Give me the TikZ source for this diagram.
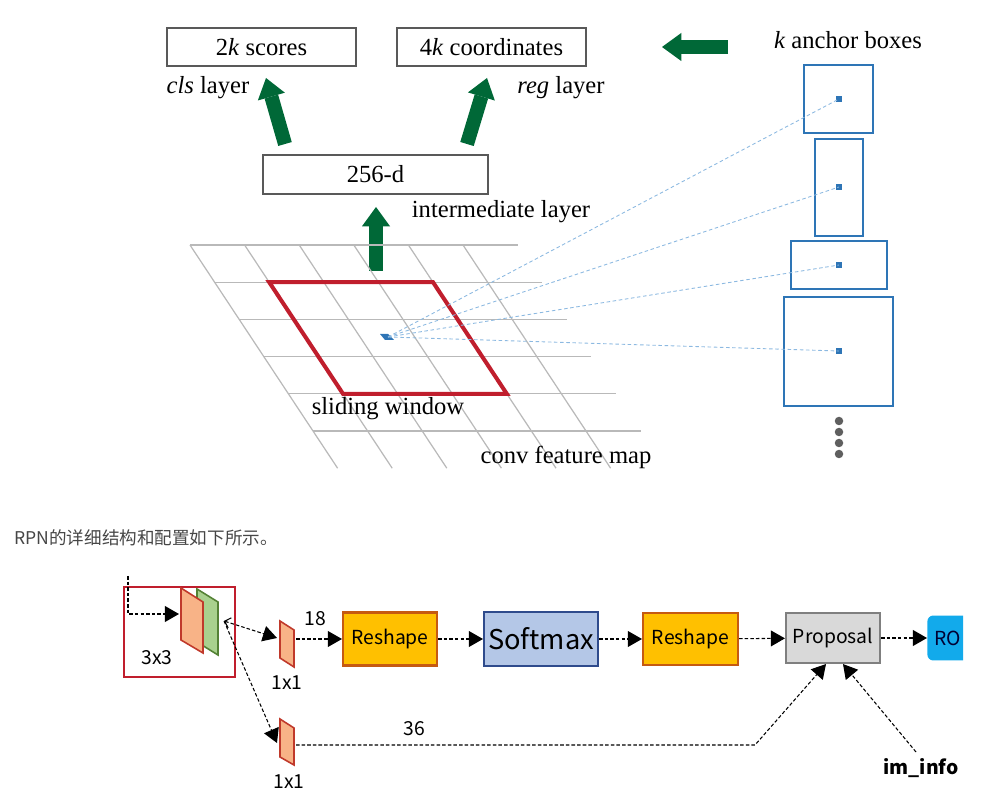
\documentclass[tikz,border=0pt]{standalone}
\usepackage{fontspec}
\setmainfont{Liberation Serif}
\newfontfamily\cjk{Noto Sans CJK SC}
\usepackage{tikz}
\usetikzlibrary{arrows.meta}
\usetikzlibrary{positioning}
\definecolor{box_gray}{RGB}{89,89,89}
\definecolor{arrow_green}{RGB}{0,104,55}
\definecolor{anchor_blue}{RGB}{46,117,182}
\definecolor{ray_blue}{RGB}{140,185,225}
\definecolor{window_red}{RGB}{192,30,45}
\definecolor{grid_gray}{RGB}{185,185,185}
\definecolor{dot_gray}{RGB}{95,95,95}
\definecolor{note_gray}{RGB}{70,70,70}
\definecolor{reshape_fill}{RGB}{255,192,0}
\definecolor{reshape_draw}{RGB}{197,90,17}
\definecolor{softmax_fill}{RGB}{180,199,231}
\definecolor{softmax_draw}{RGB}{47,75,140}
\definecolor{proposal_fill}{RGB}{217,217,217}
\definecolor{proposal_draw}{RGB}{127,127,127}
\definecolor{roi_fill}{RGB}{18,170,235}
\definecolor{feat_fill}{RGB}{248,179,135}
\definecolor{feat_draw}{RGB}{192,57,43}
\definecolor{feat2_fill}{RGB}{169,209,142}
\definecolor{feat2_draw}{RGB}{84,130,53}
\tikzstyle{serif_text}=[font=\fontsize{14}{16}\selectfont, inner sep=0pt]
\tikzstyle{sans_text}=[font=\cjk\fontsize{11}{13}\selectfont, inner sep=0pt]
\tikzstyle{layer_box}=[draw=box_gray, line width=0.8pt, inner sep=0pt, serif_text]
\tikzstyle{big_arrow}=[draw=arrow_green, line width=8pt, -{Triangle[length=11pt, width=16pt, line width=0pt]}]
\tikzstyle{anchor_box}=[draw=anchor_blue, line width=1.1pt, inner sep=0pt]
\tikzstyle{anchor_dot}=[fill=anchor_blue, minimum size=0.12cm, inner sep=0pt]
\tikzstyle{ray}=[draw=ray_blue, line width=0.5pt, dash pattern=on 2pt off 1.5pt]
\tikzstyle{grid_line}=[draw=grid_gray, line width=0.7pt]
\tikzstyle{flow}=[draw=black, line width=0.6pt, dash pattern=on 2pt off 1.2pt, -{Triangle[length=8pt, width=9pt]}]
\tikzstyle{op_box}=[line width=1.2pt, inner sep=0pt, sans_text]

\begin{document}
\begin{tikzpicture}[x=0.02cm, y=-0.02cm]
\useasboundingbox (0,0) rectangle (988,800);
\node[layer_box, minimum width=3.78cm, minimum height=0.76cm] (scores) at (261.5,47){2\textit{k} scores};
\node[layer_box, minimum width=3.78cm, minimum height=0.76cm] (coords) at (491.5,47){4\textit{k} coordinates};
\node[layer_box, minimum width=4.5cm, minimum height=0.78cm] (mid) at (375.5,174.5){256-d};
\node[serif_text] (cls) at (208,88){\textit{cls} layer};
\node[serif_text] (reg) at (561,88){\textit{reg} layer};
\node[serif_text] (inter) at (501,212){intermediate layer};
\node[serif_text] (kanchor) at (848,40){\textit{k} anchor boxes};
\coordinate (cls_tail) at (285,144);
\coordinate (cls_tip) at (266,78);
\coordinate (reg_tail) at (467,144);
\coordinate (reg_tip) at (487,78);
\coordinate (mid_tail) at (376,271);
\coordinate (mid_tip) at (376,207);
\coordinate (box_tail) at (728,47);
\coordinate (box_tip) at (662,47);
\draw[big_arrow] (cls_tail) -- (cls_tip);
\draw[big_arrow] (reg_tail) -- (reg_tip);
\draw[big_arrow] (mid_tail) -- (mid_tip);
\draw[big_arrow] (box_tail) -- (box_tip);
\foreach \v in {0,...,5}
  \draw[grid_line] ({190+24.6*\v},{245+37.2*\v}) -- ++(327.6,0);
\foreach \u in {0,...,5}
  \draw[grid_line] ({190+54.6*\u},245) -- ++(147.6,223.2);
\draw[draw=window_red, line width=2.3pt, line join=miter] (269.2,282.2) -- (433,282.2) -- (506.8,393.8) -- (343,393.8) -- cycle;
\fill[anchor_blue] (380,334) -- (388,334) -- (394,340) -- (385,340) -- cycle;
\coordinate (ctr) at (388,337);
\node[serif_text] (sliding) at (388,409){sliding window};
\node[serif_text] (convmap) at (566,457){conv feature map};
\node[anchor_box, minimum width=1.38cm, minimum height=1.36cm] (box1) at (838.5,99){};
\node[anchor_box, minimum width=0.96cm, minimum height=1.94cm] (box2) at (839,187.5){};
\node[anchor_box, minimum width=1.92cm, minimum height=0.96cm] (box3) at (839,265){};
\node[anchor_box, minimum width=2.18cm, minimum height=2.18cm] (box4) at (838.5,351.5){};
\node[anchor_dot] (dot1) at (839,99){};
\node[anchor_dot] (dot2) at (839,187){};
\node[anchor_dot] (dot3) at (839,265){};
\node[anchor_dot] (dot4) at (839,351){};
\draw[ray] (ctr) -- (dot1.center);
\draw[ray] (ctr) -- (dot2.center);
\draw[ray] (ctr) -- (dot3.center);
\draw[ray] (ctr) -- (dot4.center);
\foreach \y in {421,432,443,454}
  \fill[dot_gray] (839,\y) circle (0.085cm);

\node[anchor=west, font=\cjk\fontsize{10}{12}\selectfont, text=note_gray, inner sep=0pt] (note) at (14,538){RPN的详细结构和配置如下所示。};
\node[draw=window_red, line width=1.6pt, minimum width=2.22cm, minimum height=1.8cm, inner sep=0pt] (conv) at (179.5,632){};
\filldraw[fill=feat2_fill, draw=feat2_draw, line width=0.9pt] (197,589) -- (218,602) -- (218,655) -- (197,642) -- cycle;
\filldraw[fill=feat_fill, draw=feat_draw, line width=0.9pt] (181,588) -- (203,602) -- (203,653) -- (181,640) -- cycle;
\node[sans_text] (k3) at (157,658){3x3};
\coordinate (in_top) at (128,576);
\coordinate (in_turn) at (128,614);
\coordinate (feat_in) at (179,614);
\draw[flow] (in_top) -- (in_turn) -- (feat_in);
\coordinate (split) at (224,621);
\filldraw[fill=feat_fill, draw=feat_draw, line width=0.9pt] (280,621) -- (294,630) -- (294,667) -- (280,658) -- cycle;
\filldraw[fill=feat_fill, draw=feat_draw, line width=0.9pt] (280,719) -- (294,728) -- (294,765) -- (280,757) -- cycle;
\coordinate (cls_in) at (277,638);
\coordinate (cls_out) at (296,639);
\coordinate (reg_in) at (277,743);
\coordinate (reg_out) at (296,745);
\node[sans_text] (k1a) at (287,683){1x1};
\node[sans_text] (k1b) at (289,782){1x1};
\draw[flow, {Straight Barb[length=3pt, width=6pt]}-{Triangle[length=8pt, width=9pt]}] (split) -- (cls_in);
\draw[flow] (split) -- (reg_in);
\node[op_box, fill=reshape_fill, draw=reshape_draw, minimum width=1.88cm, minimum height=1.06cm] (reshape1) at (390,639){Reshape};
\node[op_box, fill=softmax_fill, draw=softmax_draw, minimum width=2.28cm, minimum height=1.08cm, font=\cjk\fontsize{15.5}{17}\selectfont] (softmax) at (541,639){Softmax};
\node[op_box, fill=reshape_fill, draw=reshape_draw, minimum width=1.9cm, minimum height=1.04cm] (reshape2) at (690.5,639){Reshape};
\node[op_box, fill=proposal_fill, draw=proposal_draw, minimum width=1.88cm, minimum height=1.0cm] (proposal) at (833,638){Proposal};
\begin{scope}
\clip (900,600) rectangle (963,680);
\node[sans_text, fill=roi_fill, rounded corners=0.12cm, anchor=west, text width=1.3cm, align=left, inner xsep=0.14cm, minimum height=0.9cm, text=black!80!blue] (roi) at (927,638){RO};
\end{scope}
\draw[flow] (cls_out) -- (cls_out -| reshape1.west);
\node[sans_text] (n18) at (315,619){18};
\draw[flow] (reshape1) -- (softmax);
\draw[flow] (softmax) -- (reshape2);
\draw[flow] (reshape2) -- (proposal);
\draw[flow] (proposal.east) -- (roi.west);
\coordinate (bend) at (755,745);
\draw[flow] (reg_out) -- (bend) -- ([xshift=-0.14cm]proposal.south);
\node[sans_text] (n36) at (414,729){36};
\node[sans_text, font=\cjk\bfseries\fontsize{11}{13}\selectfont] (info) at (921,768){im\_info};
\coordinate (info_top) at (916,752);
\draw[flow] (info_top) -- ([xshift=0.2cm]proposal.south);
\end{tikzpicture}
\end{document}
